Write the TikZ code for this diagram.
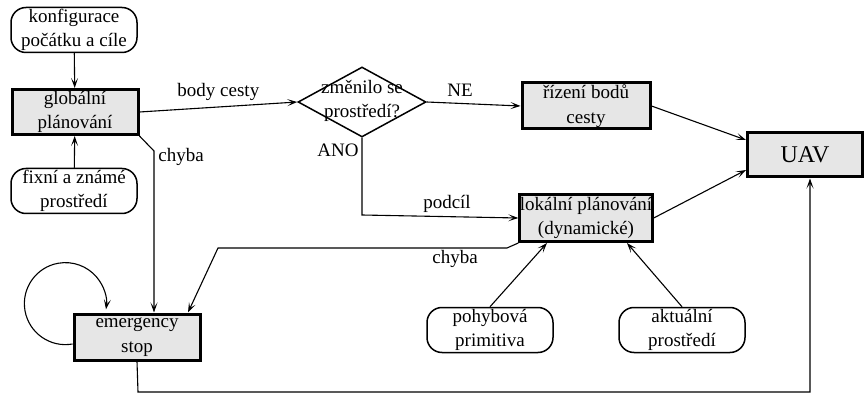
\documentclass[tikz,border=0pt]{standalone}
\usepackage{fontspec}
\setmainfont{Liberation Serif}
\usetikzlibrary{shapes.geometric,arrows.meta}
\definecolor{boxgray}{HTML}{E6E6E6}
\tikzset{
  every node/.style={font=\fontsize{19}{24.5}\selectfont},
  inbox/.style={draw, line width=1.5pt, rounded corners=15pt, align=center, minimum width=126pt, minimum height=45pt, inner sep=0pt},
  procbox/.style={draw, line width=3pt, fill=boxgray, align=center, minimum width=126pt, minimum height=45pt, inner sep=0pt},
  arr/.style={line width=1.1pt, -{Stealth[length=10pt,width=7pt,inset=5pt]}},
  lbl/.style={inner sep=0pt}
}
\begin{document}
\begin{tikzpicture}[x=1pt,y=1pt]
\useasboundingbox (0,0) rectangle (865,394);
\node[inbox] (konf) at (74,364) {konfigurace\\počátku a cíle};
\node[procbox] (glob) at (75,282) {globální\\plánování};
\node[inbox] (fix) at (74,203) {fixní a známé\\prostředí};
\node[diamond, draw, line width=1.5pt, minimum width=128pt, minimum height=70pt, inner sep=0pt] (dec) at (362,292) {};
\node[align=center, inner sep=0pt] (dectext) at (362,293) {změnilo se\\prostředí?};
\node[procbox, minimum width=128pt, minimum height=46pt] (riz) at (586,288) {řízení bodů\\cesty};
\node[procbox, minimum width=128pt, minimum height=47pt] (lok) at (586,176) {lokální plánování\\(dynamické)};
\node[procbox, minimum width=115pt, minimum height=44pt, font=\fontsize{24}{28}\selectfont] (uav) at (805,239) {UAV};
\node[procbox, minimum width=126pt, minimum height=46pt] (emerg) at (137,57) {emergency\\stop};
\node[inbox] (poh) at (490,64) {pohybová\\primitiva};
\node[inbox] (akt) at (682,64) {aktuální\\prostředí};

\coordinate (c1) at (154,243);
\coordinate (c2) at (362,179);
\coordinate (c3) at (507,146);
\coordinate (c4) at (218,146);
\coordinate (c5) at (138,2);
\coordinate (c6) at (810,2);

\draw[arr] (konf) -- (glob);
\draw[arr] (fix) -- (glob);
\draw[arr] (glob.east) -- node[lbl, above=6pt, pos=0.5] (lbody) {body cesty} (dec.west);
\draw[arr] (dec.east) -- (riz.west);
\node[lbl] (lne) at (460,304) {NE};
\draw[arr] (dec.south) -- (c2) -- (lok.west);
\node[lbl] (lano) at (338,244) {ANO};
\node[lbl] (lpod) at (447,190) {podcíl};
\draw[arr] (riz.east) -- ([yshift=15pt]uav.west);
\draw[arr] (lok.east) -- ([yshift=-15pt]uav.west);
\draw[arr] (glob.south east) -- (c1) -- (c1 |- emerg.north);
\node[lbl] (lch1) at (181,237) {chyba};
\draw[arr] (lok.south west) -- (c3) -- (c4) -- ([xshift=51pt]emerg.north);
\node[lbl] (lch2) at (455,135) {chyba};
\draw[arr] ([yshift=-7pt]emerg.west) arc[start angle=-80, end angle=-368, radius=41];
\draw[arr] (emerg.south) -- (c5) -- (c6) -- (c6 |- uav.south);
\draw[arr] (poh.north) -- ([xshift=-39pt]lok.south);
\draw[arr] (akt.north) -- ([xshift=41pt]lok.south);
\end{tikzpicture}
\end{document}
